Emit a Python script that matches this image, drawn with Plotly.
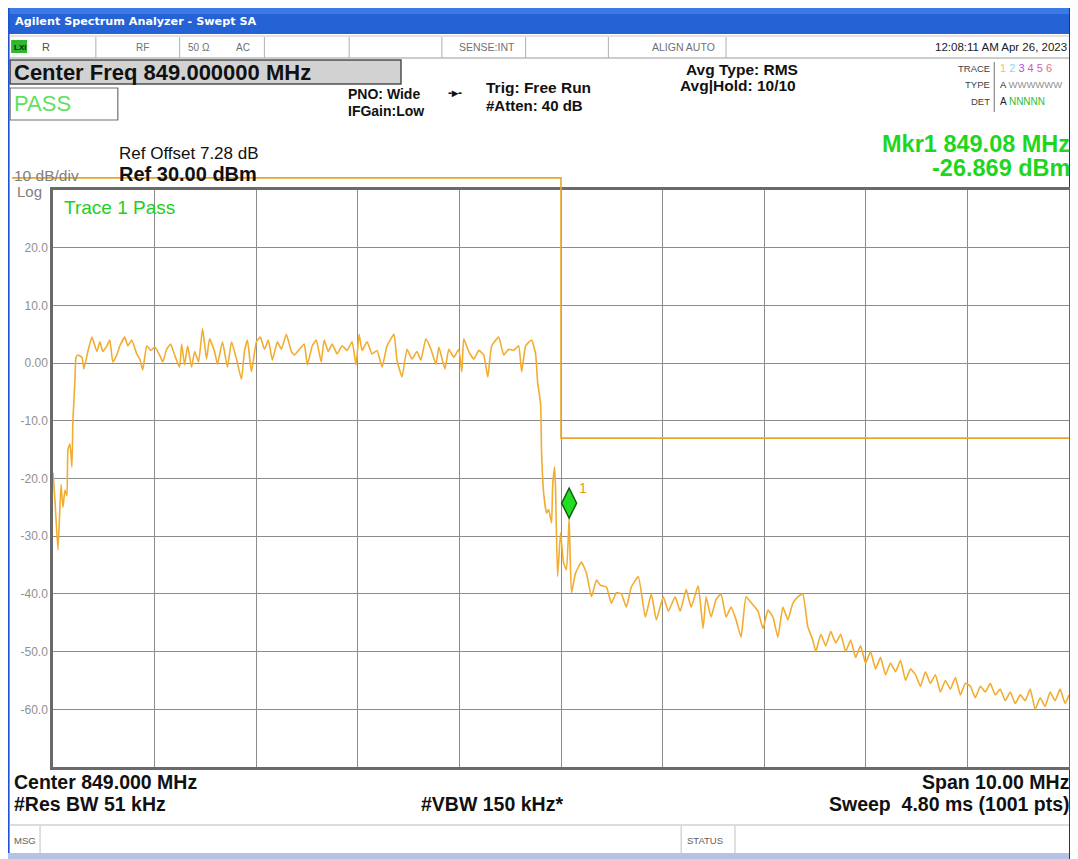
import plotly.graph_objects as go

# ---------------- data ----------------
freq_mhz = [
    844.000, 844.020, 844.049, 844.079, 844.098, 844.118, 844.137, 844.147, 844.167, 844.186,
    844.196, 844.216, 844.226, 844.245, 844.285, 844.304, 844.343, 844.383, 844.432, 844.461,
    844.491, 844.530, 844.559, 844.589, 844.628, 844.658, 844.707, 844.736, 844.775, 844.824,
    844.854, 844.883, 844.923, 844.962, 845.001, 845.050, 845.080, 845.119, 845.158, 845.197,
    845.246, 845.266, 845.295, 845.325, 845.364, 845.394, 845.433, 845.472, 845.511, 845.541,
    845.590, 845.619, 845.668, 845.717, 845.757, 845.806, 845.855, 845.884, 845.914, 845.953,
    846.002, 846.041, 846.081, 846.120, 846.159, 846.208, 846.247, 846.297, 846.346, 846.375,
    846.424, 846.473, 846.503, 846.552, 846.591, 846.640, 846.669, 846.709, 846.748, 846.797,
    846.846, 846.895, 846.944, 846.983, 847.013, 847.042, 847.091, 847.140, 847.190, 847.239,
    847.288, 847.356, 847.386, 847.435, 847.484, 847.533, 847.582, 847.621, 847.670, 847.720,
    847.769, 847.798, 847.857, 847.896, 847.945, 847.994, 848.024, 848.043, 848.092, 848.142,
    848.191, 848.240, 848.279, 848.318, 848.387, 848.436, 848.485, 848.534, 848.583, 848.613,
    848.652, 848.711, 848.750, 848.770, 848.799, 848.809, 848.829, 848.858, 848.878, 848.907,
    848.917, 848.937, 848.946, 848.966, 848.996, 849.025, 849.054, 849.080, 849.103, 849.143,
    849.201, 849.251, 849.300, 849.349, 849.388, 849.447, 849.496, 849.545, 849.594, 849.643,
    849.692, 849.761, 849.830, 849.889, 849.938, 850.007, 850.056, 850.124, 850.173, 850.232,
    850.281, 850.350, 850.399, 850.428, 850.477, 850.526, 850.575, 850.625, 850.674, 850.723,
    850.772, 850.821, 850.870, 850.939, 850.988, 851.037, 851.086, 851.135, 851.184, 851.233,
    851.282, 851.331, 851.380, 851.429, 851.478, 851.508, 851.557, 851.606, 851.655, 851.704,
    851.753, 851.802, 851.851, 851.900, 851.949, 851.998, 852.047, 852.096, 852.145, 852.194,
    852.243, 852.292, 852.342, 852.391, 852.440, 852.489, 852.538, 852.587, 852.636, 852.685,
    852.734, 852.783, 852.832, 852.882, 852.931, 852.980, 853.029, 853.078, 853.127, 853.176,
    853.225, 853.274, 853.323, 853.372, 853.422, 853.471, 853.520, 853.569, 853.618, 853.667,
    853.716, 853.765, 853.814, 853.863, 853.912, 853.962, 854.000,
]
power_dbm = [
    -19.0, -24.0, -32.4, -21.0, -25.0, -22.0, -23.0, -15.0, -14.0, -18.0,
    -10.0, -3.0, 1.0, 1.4, 1.0, -1.0, 2.0, 4.5, 2.0, 3.7,
    2.0, 3.0, 4.0, 0.2, 1.4, 3.0, 4.5, 3.0, 4.0, 1.6,
    0.7, -1.2, 3.0, 2.2, 2.8, 1.4, 0.2, 2.4, 3.3, 1.4,
    -0.7, 3.3, -0.3, 3.0, -0.7, 2.0, 0.2, 6.0, 0.7, 4.2,
    2.0, -0.2, 3.7, -0.7, 3.7, 0.7, -2.8, 2.0, 4.0, -1.5,
    3.7, 4.5, 2.4, 4.0, 0.5, 3.7, 2.4, 5.0, 2.0, 1.4,
    2.4, 3.3, -0.3, 3.0, 4.0, 0.2, 4.0, 2.0, 3.3, 1.6,
    3.0, 2.2, 3.7, -0.3, 5.0, 2.2, 3.7, 1.6, 2.2, -0.7,
    3.0, 5.0, 0.5, -2.4, 2.4, 0.7, 2.0, 0.5, 4.2, 2.4,
    -0.2, 2.8, -1.0, 2.4, 1.0, 2.4, -1.5, 4.2, 2.0, 0.7,
    2.2, 1.4, -2.4, 3.0, 4.5, 1.4, 2.4, 2.2, 3.0, -1.5,
    3.0, 4.0, 1.6, -3.3, -7.0, -15.6, -22.5, -26.0, -25.4, -27.7,
    -21.5, -18.0, -21.5, -37.0, -29.4, -34.6, -35.8, -26.9, -39.8, -36.4,
    -34.5, -36.4, -40.5, -37.6, -38.5, -38.8, -41.6, -39.8, -40.0, -42.3,
    -38.8, -37.0, -44.0, -40.0, -44.5, -40.5, -43.0, -40.5, -43.0, -39.2,
    -42.3, -38.6, -46.0, -40.5, -44.0, -41.0, -40.0, -44.0, -42.3, -44.5,
    -47.5, -40.5, -41.5, -43.0, -46.0, -42.8, -44.0, -47.5, -42.3, -44.5,
    -41.6, -40.5, -40.0, -45.7, -48.0, -50.0, -47.0, -49.0, -46.5, -48.5,
    -47.0, -50.0, -48.0, -51.0, -49.0, -52.0, -50.0, -53.0, -51.0, -54.0,
    -52.0, -53.5, -51.5, -55.0, -53.0, -54.0, -56.0, -53.5, -55.5, -54.0,
    -57.0, -55.0, -56.5, -54.5, -57.5, -55.5, -56.0, -58.0, -56.0, -57.0,
    -55.5, -57.5, -56.5, -58.5, -57.0, -59.0, -57.5, -58.5, -56.5, -60.0,
    -58.0, -59.5, -57.0, -58.5, -56.5, -59.0, -57.5,
]
limit_freq = [844.0, 849.0, 849.0, 854.0]
limit_dbm = [32.1, 32.1, -13.0, -13.0]
marker_freq = [849.08]
marker_dbm = [-26.869]
y_tick_vals = [20, 10, 0, -10, -20, -30, -40, -50, -60]
y_tick_text = ["20.0", "10.0", "0.00", "-10.0", "-20.0", "-30.0", "-40.0", "-50.0", "-60.0"]

# ---------------- geometry ----------------
OFF = 8                      # page body margin of the browser
W, H = 1078 - OFF, 859 - OFF
L, R, T, B = 53 - OFF, 6, 190 - OFF, 92
PW, PH = W - L - R, H - T - B
X_RANGE = [844.0, 854.0]
Y_RANGE = [-70.0, 30.0]


def PX(x):
    return (x - OFF - L) / PW


def PY(y):
    return 1 - (y - OFF - T) / PH


def data_px(f):
    return (f - X_RANGE[0]) / (X_RANGE[1] - X_RANGE[0])


def data_py(v):
    return (v - Y_RANGE[0]) / (Y_RANGE[1] - Y_RANGE[0])


FONT = "Liberation Sans, Arial, sans-serif"
TRACE_COL = "#f2ad30"
LIMIT_COL = "#e9a628"
GREEN = "#1fd61f"

fig = go.Figure()

fig.add_trace(go.Scatter(x=limit_freq, y=limit_dbm, mode="lines",
                         line=dict(color=LIMIT_COL, width=1.6), hoverinfo="skip"))
fig.add_trace(go.Scatter(x=freq_mhz, y=power_dbm, mode="lines",
                         line=dict(color=TRACE_COL, width=1.6, shape="spline", smoothing=0.4),
                         hoverinfo="skip"))

shapes = []


def rect(x0, y0, x1, y1, fill, line=None, lw=0):
    shapes.append(dict(type="rect", xref="paper", yref="paper", x0=PX(x0), x1=PX(x1),
                       y0=PY(y0), y1=PY(y1), fillcolor=fill,
                       line=dict(color=line or fill, width=lw), layer="below"))


def hline(x0, x1, y, color="#a8a8a8", w=1):
    shapes.append(dict(type="line", xref="paper", yref="paper", x0=PX(x0), x1=PX(x1),
                       y0=PY(y), y1=PY(y), line=dict(color=color, width=w)))


def vline(x, y0, y1, color="#a8a8a8", w=1):
    shapes.append(dict(type="line", xref="paper", yref="paper", x0=PX(x), x1=PX(x),
                       y0=PY(y0), y1=PY(y1), line=dict(color=color, width=w)))


# window chrome
rect(5, 7, 1072, 34, "#2462d6")
rect(5, 7, 1072, 14, "#3d7ae6")
rect(4, 7, 9.5, 856, "#1f52d2")
rect(1072, 7, 1078, 859, "#1430a8")
rect(4, 853, 1072, 859, "#b4c2e6")

# status row
hline(9, 1072, 36, "#c8c8c8")
hline(9, 1072, 58, "#9a9a9a")
for sx in [96, 180, 265, 350, 443, 527, 610, 728]:
    vline(sx, 37, 58, "#b0b0b0")
rect(11, 40, 27, 53, "#2fb82f")

# boxes
rect(10, 60, 402, 84, "#d2d2d2", "#505050", 1.5)
rect(10, 88, 118, 120, "#ffffff", "#707070", 1.2)
vline(997, 62, 112, "#707070")

# bottom rows
hline(9, 1072, 825, "#b8b8b8")
vline(40, 826, 853, "#c0c0c0")
vline(683, 826, 853, "#c0c0c0")
vline(737, 826, 853, "#c0c0c0")

# limit line top segment (above the grid top), derived from the limit data
top_y = data_py(limit_dbm[0])
top_y_grid = data_py(Y_RANGE[1])
x_step = data_px(limit_freq[1])
shapes.append(dict(type="path", xref="paper", yref="paper",
                   path=f"M {PX(12)},{top_y} L {x_step},{top_y} L {x_step},{top_y_grid}",
                   line=dict(color=LIMIT_COL, width=1.6)))

# marker 1: tall diamond whose bottom tip sits on the marker point
shapes.append(dict(type="path", xref="x", yref="y", xsizemode="pixel", ysizemode="pixel",
                   xanchor=marker_freq[0], yanchor=marker_dbm[0],
                   path="M 0,0 L 7.5,15 L 0,30 L -7.5,15 Z",
                   fillcolor="#22dd22", line=dict(color="#0c5a0c", width=1.4)))

annotations = []


def text(x, y, s, size=12, color="#000000", bold=False, xanchor="left",
         yanchor="middle", family=FONT):
    if bold:
        s = f"<b>{s}</b>"
    annotations.append(dict(xref="paper", yref="paper", x=PX(x), y=PY(y), text=s,
                            showarrow=False, xanchor=xanchor, yanchor=yanchor,
                            font=dict(size=size, color=color, family=family)))


text(13, 21, "Agilent Spectrum Analyzer - Swept SA", 11.2, "#ffffff", True,
     family="DejaVu Sans, sans-serif")
text(12, 47, "LXI", 8, "#0a2a0a", True)
text(40, 47, "R", 11, "#505050")
text(134, 47, "RF", 10, "#707070")
text(186, 47, "50 Ω", 10, "#707070")
text(235, 47, "AC", 10, "#707070")
text(458, 47, "SENSE:INT", 10.5, "#707070")
text(652, 47, "ALIGN AUTO", 10.5, "#707070")
text(1072, 47, "12:08:11 AM Apr 26, 2023", 11.5, "#202020", xanchor="right")

text(12, 73, "Center Freq 849.000000 MHz", 22, "#111111", True)
text(12, 104, "PASS", 22, "#5fe05f")
text(347, 94, "PNO: Wide", 14, "#111111", True)
text(347, 111, "IFGain:Low", 14, "#111111", True)
text(447, 93, "-▸-", 12, "#111111", True)
text(485, 88, "Trig: Free Run", 15.5, "#111111", True)
text(485, 106, "#Atten: 40 dB", 15, "#111111", True)
text(686, 69, "Avg Type: RMS", 15.5, "#111111", True)
text(680, 86, "Avg|Hold: 10/10", 15.5, "#111111", True)

text(995, 68, "TRACE", 9.5, "#404040", xanchor="right")
text(995, 85, "TYPE", 9.5, "#404040", xanchor="right")
text(995, 102, "DET", 9.5, "#404040", xanchor="right")
text(1001, 68, "<span style='color:#f0c080'>1</span> <span style='color:#80e0e0'>2</span> "
     "<span style='color:#b050e0'>3</span> <span style='color:#e050c0'>4</span> "
     "<span style='color:#d060c0'>5</span> <span style='color:#e07090'>6</span>", 11)
text(1001, 85, "A <span style='color:#909090'>WWWWWW</span>", 9.5, "#202020")
text(1001, 102, "A <span style='color:#30c030'>NNNNN</span>", 10, "#202020")

text(1075, 144, "Mkr1 849.08 MHz", 23.5, GREEN, True, xanchor="right")
text(1075, 168, "-26.869 dBm", 23.5, GREEN, True, xanchor="right")

text(117, 153, "Ref Offset 7.28 dB", 17, "#111111")
text(117, 174, "Ref 30.00 dBm", 20, "#111111", True)
text(12, 175, "10 dB/div", 15.5, "#808080")
text(15, 191, "Log", 15, "#808080")
text(62, 207, "Trace 1 Pass", 19, "#22d022")

text(12, 782, "Center 849.000 MHz", 19.5, "#111111", True)
text(12, 804, "#Res BW 51 kHz", 19.5, "#111111", True)
text(420, 804, "#VBW 150 kHz*", 19.5, "#111111", True)
text(1075, 782, "Span 10.00 MHz", 19.5, "#111111", True, xanchor="right")
text(1075, 804, "Sweep  4.80 ms (1001 pts)", 19.5, "#111111", True, xanchor="right")
text(12, 840, "MSG", 9.5, "#606060")
text(687, 840, "STATUS", 9.5, "#606060")

# marker number label, placed relative to the marker point
annotations.append(dict(x=marker_freq[0], y=marker_dbm[0], xref="x", yref="y", text="1",
                        showarrow=False, xshift=14, yshift=30,
                        font=dict(size=14, color="#e89a20", family=FONT)))

fig.update_layout(
    width=W, height=H, margin=dict(l=L, r=R, t=T, b=B),
    paper_bgcolor="#ffffff", plot_bgcolor="#ffffff", showlegend=False,
    shapes=shapes, annotations=annotations,
    xaxis=dict(range=X_RANGE, dtick=1, tick0=844, showticklabels=False, ticks="",
               showgrid=True, gridcolor="#8c8c8c", gridwidth=1.2, zeroline=False,
               showline=True, mirror=True, linecolor="#6a6a6a", linewidth=2.5),
    yaxis=dict(range=Y_RANGE, tickvals=y_tick_vals, ticktext=y_tick_text,
               tickfont=dict(size=12, color="#909090", family=FONT), ticks="",
               showgrid=True, gridcolor="#8c8c8c", gridwidth=1.2, zeroline=False,
               showline=True, mirror=True, linecolor="#6a6a6a", linewidth=2.5),
)

fig.write_html("out.html")
